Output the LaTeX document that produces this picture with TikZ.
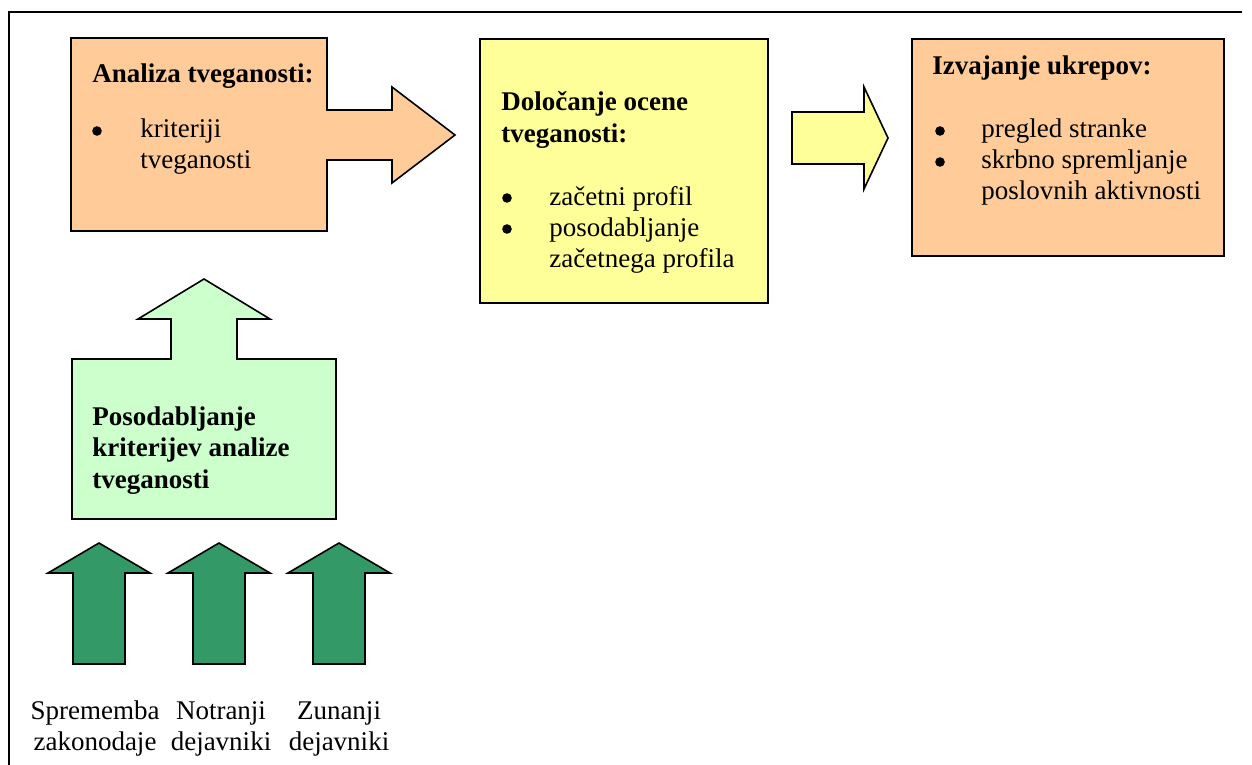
\documentclass[tikz,border=0pt]{standalone}
\usepackage{fontspec}
\setmainfont{Liberation Serif}
\definecolor{riskorange}{HTML}{FFCC99}
\definecolor{riskyellow}{HTML}{FFFF99}
\definecolor{riskmint}{HTML}{CCFFCC}
\definecolor{riskgreen}{HTML}{339966}
\tikzset{every node/.style={inner sep=0pt, font=\fontsize{13.5pt}{15.75pt}\selectfont}}
\tikzset{block/.style={draw=black, line width=0.8pt, line join=miter}}
\tikzset{heading/.style={anchor=base west, font=\fontsize{13.5pt}{15.75pt}\selectfont\bfseries}}
\tikzset{items/.style={anchor=base west}}
\tikzset{factor/.style={anchor=base}}

\begin{document}
\begin{tikzpicture}[x=0.5pt, y=-0.5pt]
    \useasboundingbox (0,0) rectangle (1252,765);
    \draw[line width=1pt] (9,765) -- (9,12) -- (1242,12);
    % risk analysis box with arrow
    \filldraw[block, fill=riskorange] (71,38) -- (327,38) -- (327,110) -- (392,110) -- (392,87)
        -- (455,135) -- (392,183) -- (392,160) -- (327,160) -- (327,231) -- (71,231) -- cycle;
    \filldraw[block, fill=riskyellow] (480,39) rectangle (768,303);
    \filldraw[block, fill=riskyellow] (792,112) -- (864,112) -- (864,87) -- (888,138)
        -- (864,189) -- (864,164) -- (792,164) -- cycle;
    \filldraw[block, fill=riskorange] (912,39) rectangle (1224,256);
    % update box with arrow up
    \filldraw[block, fill=riskmint] (72,519) -- (72,359) -- (171,359) -- (171,319) -- (138,319)
        -- (204,279) -- (270,319) -- (237,319) -- (237,359) -- (336,359) -- (336,519) -- cycle;
    \foreach \x in {99,219,339}
        \filldraw[block, fill=riskgreen] (\x-26,664) -- (\x-26,573) -- (\x-51,573) -- (\x,543)
            -- (\x+51,573) -- (\x+26,573) -- (\x+26,664) -- cycle;
    % bullets
    \foreach \bx/\by in {97/131, 507/198, 507/229, 940/131, 940/162}
        \fill (\bx,\by) circle (4.8);

    \node[heading] (analiza) at (92,83) {Analiza tveganosti:};
    \node[items] (kriteriji) at (140,137) {\begin{tabular}[t]{@{}l@{}}kriteriji\\ tveganosti\end{tabular}};
    \node[heading] (ocena) at (501,111) {\begin{tabular}[t]{@{}l@{}}Določanje ocene\\ tveganosti:\end{tabular}};
    \node[items] (profil) at (549,205) {\begin{tabular}[t]{@{}l@{}}začetni profil\\ posodabljanje\\ začetnega profila\end{tabular}};
    \node[heading] (ukrepi) at (932,75) {Izvajanje ukrepov:};
    \node[items] (stranka) at (981,137) {\begin{tabular}[t]{@{}l@{}}pregled stranke\\ skrbno spremljanje\\ poslovnih aktivnosti\end{tabular}};
    \node[heading] (posodobitev) at (92,425) {\begin{tabular}[t]{@{}l@{}}Posodabljanje\\ kriterijev analize\\ tveganosti\end{tabular}};
    \node[factor] (zakon) at (95,719) {\begin{tabular}[t]{@{}c@{}}Sprememba\\ zakonodaje\end{tabular}};
    \node[factor] (notranji) at (221,719) {\begin{tabular}[t]{@{}c@{}}Notranji\\ dejavniki\end{tabular}};
    \node[factor] (zunanji) at (339,719) {\begin{tabular}[t]{@{}c@{}}Zunanji\\ dejavniki\end{tabular}};
\end{tikzpicture}
\end{document}
